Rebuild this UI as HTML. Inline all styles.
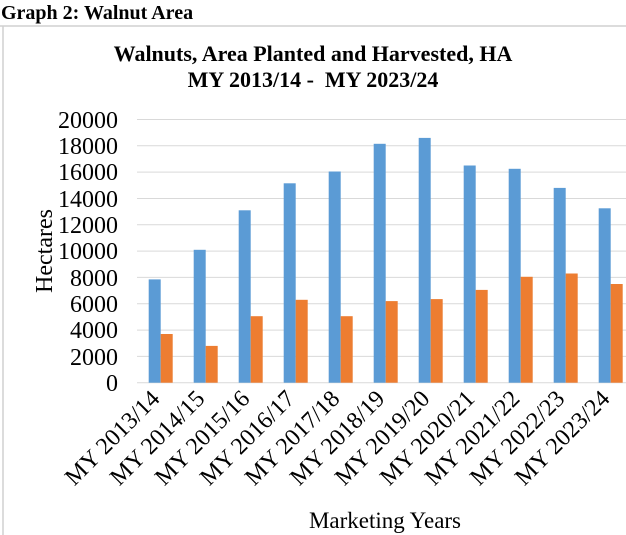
<!DOCTYPE html>
<html><head><meta charset="utf-8"><style>
html,body{margin:0;padding:0;background:#fff;width:626px;height:535px;overflow:hidden}
</style></head><body>
<svg width="626" height="535" xmlns="http://www.w3.org/2000/svg" font-family="Liberation Serif, serif">
<rect width="626" height="535" fill="#fff"/>
<text x="1" y="19" font-size="20" font-weight="bold" fill="#000">Graph 2: Walnut Area</text>
<line x1="0" y1="26" x2="626" y2="26" stroke="#d0d0d0" stroke-width="1.5"/>
<line x1="3" y1="26" x2="3" y2="535" stroke="#d0d0d0" stroke-width="1.5"/>
<text x="313" y="61" font-size="22" font-weight="bold" text-anchor="middle">Walnuts, Area Planted and Harvested, HA</text>
<text x="313" y="87" font-size="22" font-weight="bold" text-anchor="middle" xml:space="preserve">MY 2013/14 -  MY 2023/24</text>
<g stroke="#d9d9d9" stroke-width="1">
<line x1="137" x2="626" y1="119.5" y2="119.5"/><line x1="137" x2="626" y1="145.8" y2="145.8"/>
<line x1="137" x2="626" y1="172.1" y2="172.1"/><line x1="137" x2="626" y1="198.5" y2="198.5"/>
<line x1="137" x2="626" y1="224.8" y2="224.8"/><line x1="137" x2="626" y1="251.1" y2="251.1"/>
<line x1="137" x2="626" y1="277.4" y2="277.4"/><line x1="137" x2="626" y1="303.7" y2="303.7"/>
<line x1="137" x2="626" y1="330.1" y2="330.1"/><line x1="137" x2="626" y1="356.4" y2="356.4"/>
<line x1="137" x2="626" y1="382.7" y2="382.7"/>
</g>
<g font-size="24" text-anchor="end">
<text x="118" y="128">20000</text><text x="118" y="154">18000</text><text x="118" y="180">16000</text>
<text x="118" y="207">14000</text><text x="118" y="233">12000</text><text x="118" y="259">10000</text>
<text x="118" y="286">8000</text><text x="118" y="312">6000</text><text x="118" y="338">4000</text>
<text x="118" y="365">2000</text><text x="118" y="391">0</text>
</g>
<text transform="translate(52,251) rotate(-90)" font-size="24" text-anchor="middle">Hectares</text>
<g fill="#5b9bd5">
<rect x="148.7" y="279.4" width="12" height="103.3"/>
<rect x="193.7" y="249.8" width="12" height="132.9"/>
<rect x="238.7" y="210.3" width="12" height="172.4"/>
<rect x="283.7" y="183.3" width="12" height="199.4"/>
<rect x="328.7" y="171.5" width="12" height="211.2"/>
<rect x="373.7" y="143.8" width="12" height="238.9"/>
<rect x="418.7" y="137.9" width="12" height="244.8"/>
<rect x="463.7" y="165.5" width="12" height="217.2"/>
<rect x="508.7" y="168.8" width="12" height="213.9"/>
<rect x="553.7" y="187.9" width="12" height="194.8"/>
<rect x="598.7" y="208.3" width="12" height="174.4"/>
</g>
<g fill="#ed7d31">
<rect x="160.7" y="334.0" width="12" height="48.7"/>
<rect x="205.7" y="345.9" width="12" height="36.8"/>
<rect x="250.7" y="316.2" width="12" height="66.5"/>
<rect x="295.7" y="299.8" width="12" height="82.9"/>
<rect x="340.7" y="316.2" width="12" height="66.5"/>
<rect x="385.7" y="301.1" width="12" height="81.6"/>
<rect x="430.7" y="299.1" width="12" height="83.6"/>
<rect x="475.7" y="289.9" width="12" height="92.8"/>
<rect x="520.7" y="276.8" width="12" height="105.9"/>
<rect x="565.7" y="273.5" width="12" height="109.2"/>
<rect x="610.7" y="284.0" width="12" height="98.7"/>
</g>
<g font-size="24" text-anchor="end">
<text transform="translate(161,400) rotate(-45)">MY 2013/14</text>
<text transform="translate(206,400) rotate(-45)">MY 2014/15</text>
<text transform="translate(251,400) rotate(-45)">MY 2015/16</text>
<text transform="translate(296,400) rotate(-45)">MY 2016/17</text>
<text transform="translate(341,400) rotate(-45)">MY 2017/18</text>
<text transform="translate(386,400) rotate(-45)">MY 2018/19</text>
<text transform="translate(431,400) rotate(-45)">MY 2019/20</text>
<text transform="translate(476,400) rotate(-45)">MY 2020/21</text>
<text transform="translate(521,400) rotate(-45)">MY 2021/22</text>
<text transform="translate(566,400) rotate(-45)">MY 2022/23</text>
<text transform="translate(611,400) rotate(-45)">MY 2023/24</text>
</g>
<text x="385" y="528" font-size="23" text-anchor="middle">Marketing Years</text>
</svg>
</body></html>
